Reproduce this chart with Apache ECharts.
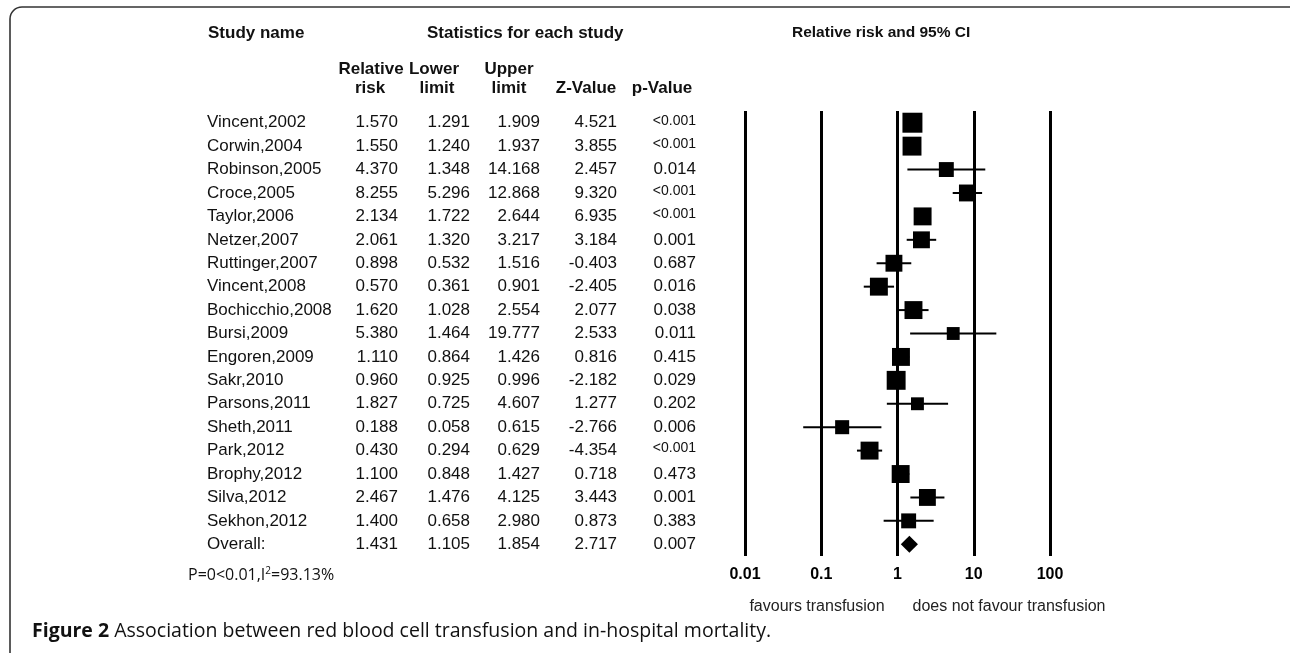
<!DOCTYPE html>
<html><head><meta charset="utf-8">
<script src="https://cdn.jsdelivr.net/npm/echarts@6.0.0/dist/echarts.min.js"></script>
<style>html,body{margin:0;padding:0;background:#fff;}#c{width:1290px;height:653px;}</style>
</head><body><div id="c"></div>
<script>
// ---- data ----
const studies = ['Vincent,2002','Corwin,2004','Robinson,2005','Croce,2005','Taylor,2006','Netzer,2007','Ruttinger,2007','Vincent,2008','Bochicchio,2008','Bursi,2009','Engoren,2009','Sakr,2010','Parsons,2011','Sheth,2011','Park,2012','Brophy,2012','Silva,2012','Sekhon,2012','Overall:'];
const relRisk    = [1.570,1.550,4.370,8.255,2.134,2.061,0.898,0.570,1.620,5.380,1.110,0.960,1.827,0.188,0.430,1.100,2.467,1.400,1.431];
const lowerLimit = [1.291,1.240,1.348,5.296,1.722,1.320,0.532,0.361,1.028,1.464,0.864,0.925,0.725,0.058,0.294,0.848,1.476,0.658,1.105];
const upperLimit = [1.909,1.937,14.168,12.868,2.644,3.217,1.516,0.901,2.554,19.777,1.426,0.996,4.607,0.615,0.629,1.427,4.125,2.980,1.854];
const zValue     = [4.521,3.855,2.457,9.320,6.935,3.184,-0.403,-2.405,2.077,2.533,0.816,-2.182,1.277,-2.766,-4.354,0.718,3.443,0.873,2.717];
const pValue     = ['<0.001','<0.001','0.014','<0.001','<0.001','0.001','0.687','0.016','0.038','0.011','0.415','0.029','0.202','0.006','<0.001','0.473','0.001','0.383','0.007'];
// relative weights (%)
const weights    = [7.7,6.9,4.3,5.5,6.2,5.5,5.5,6.2,6.2,3.2,6.2,6.9,3.2,3.8,6.2,6.2,5.5,4.3];
const tickValues = [0.01,0.1,1,10,100];
const tickLabels = ['0.01','0.1','1','10','100'];
const heterogeneity = 'P=0<0.01,I{sup|2}=93.13%';

// ---- layout / styles ----
const FONT = '"Liberation Sans", Arial, sans-serif';
const CAP_FONT = '"Open Sans", Lato, sans-serif';
const BOX_K = 7.2;
const cols = { name: 207, rr: 398, lo: 470, hi: 540, z: 617, p: 696 };

const chart = echarts.init(document.getElementById('c'), null, { renderer: 'canvas' });

const seriesData = studies.map((s, i) => [relRisk[i], i, lowerLimit[i], upperLimit[i], i < weights.length ? weights[i] : 0]);

function txt(text, x, y, align, size, weight) {
  return { type: 'text', x: x, y: y, silent: true,
    style: { text: text, fill: '#111', align: align, verticalAlign: 'middle',
      font: (weight || 'normal') + ' ' + size + 'px ' + FONT } };
}

function renderItem(params, api) {
  const i = api.value(1);
  const c = api.coord([api.value(0), i]);
  const l = api.coord([api.value(2), i]);
  const h = api.coord([api.value(3), i]);
  const y = c[1];
  const kids = [];
  if (i < studies.length - 1) {
    kids.push({ type: 'line', shape: { x1: l[0], y1: y, x2: h[0], y2: y }, style: { stroke: '#000', lineWidth: 2 } });
    const s = BOX_K * Math.sqrt(api.value(4));
    kids.push({ type: 'rect', shape: { x: c[0] - s / 2, y: y - s / 2, width: s, height: s }, style: { fill: '#000' } });
  } else {
    kids.push({ type: 'polygon', shape: { points: [[l[0], y], [c[0], y - 8.5], [h[0], y], [c[0], y + 8.5]] }, style: { fill: '#000' } });
  }
  kids.push(txt(studies[i], cols.name, y, 'left', 17));
  kids.push(txt(relRisk[i].toFixed(3), cols.rr, y, 'right', 17));
  kids.push(txt(lowerLimit[i].toFixed(3), cols.lo, y, 'right', 17));
  kids.push(txt(upperLimit[i].toFixed(3), cols.hi, y, 'right', 17));
  kids.push(txt(zValue[i].toFixed(3), cols.z, y, 'right', 17));
  const small = pValue[i].charAt(0) === '<';
  kids.push(txt(pValue[i], cols.p, y - (small ? 2 : 0), 'right', small ? 14 : 17));
  return { type: 'group', children: kids };
}

const hdr = (t, x, y, align, size, weight) => ({ type: 'text', x: x, y: y, silent: true,
  style: { text: t, fill: '#111', align: align, verticalAlign: 'middle', font: weight + ' ' + size + 'px ' + FONT } });

const option = {
  animation: false,
  backgroundColor: '#fff',
  grid: { left: 745, right: 240, top: 111, height: 445 },
  xAxis: {
    type: 'log', logBase: 10, min: tickValues[0], max: tickValues[tickValues.length - 1],
    axisLine: { show: false }, axisTick: { show: false },
    splitLine: { show: true, showMinLine: true, showMaxLine: true, lineStyle: { color: '#000', width: 3 } },
    axisLabel: { margin: 11, fontSize: 16, fontWeight: 'bold', color: '#000', fontFamily: FONT,
      formatter: v => { const k = tickValues.findIndex(t => Math.abs(Math.log10(t) - Math.log10(v)) < 1e-6); return k >= 0 ? tickLabels[k] : ''; } }
  },
  yAxis: { type: 'category', data: studies, inverse: true, show: false },
  series: [{
    type: 'custom', renderItem: renderItem, data: seriesData, clip: false,
    encode: { x: 0, y: 1 }
  }],
  graphic: [
    { type: 'rect', silent: true, shape: { x: 10, y: 7, width: 1300, height: 720, r: 12 }, style: { fill: 'none', stroke: '#333', lineWidth: 1.6 } },
    hdr('Study name', 208, 33, 'left', 17, 'bold'),
    hdr('Statistics for each study', 427, 33, 'left', 17, 'bold'),
    hdr('Relative risk and 95% CI', 792, 33, 'left', 15.5, 'bold'),
    hdr('Relative', 371, 69, 'center', 17, 'bold'),
    hdr('risk', 370, 88, 'center', 17, 'bold'),
    hdr('Lower', 434, 69, 'center', 17, 'bold'),
    hdr('limit', 437, 88, 'center', 17, 'bold'),
    hdr('Upper', 509, 69, 'center', 17, 'bold'),
    hdr('limit', 509, 88, 'center', 17, 'bold'),
    hdr('Z-Value', 586, 88, 'center', 17, 'bold'),
    hdr('p-Value', 662, 88, 'center', 17, 'bold'),
    { type: 'text', x: 817, y: 607, silent: true, style: { text: 'favours transfusion', fill: '#222', align: 'center', verticalAlign: 'middle', font: 'normal 16px ' + FONT } },
    { type: 'text', x: 1009, y: 607, silent: true, style: { text: 'does not favour transfusion', fill: '#222', align: 'center', verticalAlign: 'middle', font: 'normal 16px ' + FONT } },
    { type: 'text', x: 188, y: 575, silent: true, style: { text: heterogeneity, fill: '#111', align: 'left', verticalAlign: 'middle', font: 'normal 16px ' + CAP_FONT,
      rich: { sup: { fontSize: 10, verticalAlign: 'top', lineHeight: 18, fontFamily: CAP_FONT, fill: '#111', padding: [0, 0, 6, 0] } } } },
    { type: 'text', x: 32, y: 631, silent: true, style: { text: '{b|Figure 2} Association between red blood cell transfusion and in-hospital mortality.', fill: '#111', align: 'left', verticalAlign: 'middle', font: 'normal 19.5px ' + CAP_FONT,
      rich: { b: { fontWeight: 'bold', fontSize: 19.5, fontFamily: CAP_FONT, fill: '#111' } } } }
  ]
};
chart.setOption(option);
</script>
</body></html>
